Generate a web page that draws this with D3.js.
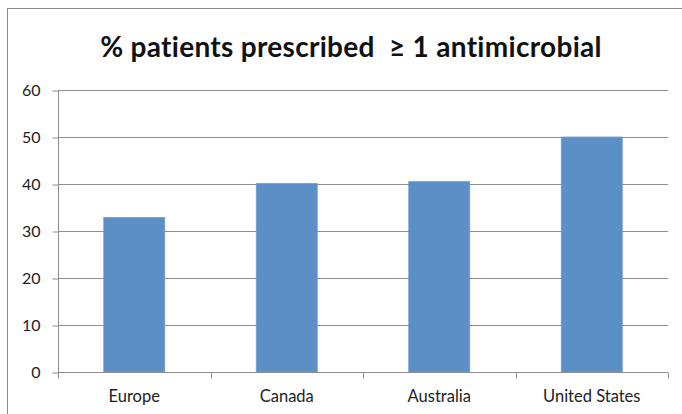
<!DOCTYPE html>
<html><head><meta charset="utf-8">
<script src="https://cdn.jsdelivr.net/npm/d3@7"></script>
<style>body{margin:0;background:#fff}svg{display:block}</style>
</head><body>
<script>
const categories = ["Europe", "Canada", "Australia", "United States"];
const values = [32.9, 40.1, 40.5, 50];
const yTicks = [0, 10, 20, 30, 40, 50, 60];
const title = "% patients prescribed  \u2265 1 antimicrobial";

const W = 682, H = 414;
const m = {left: 58, right: 14, top: 90, bottom: 42};
const svg = d3.select("body").append("svg").attr("width", W).attr("height", H);
const font = "Lato, 'Open Sans', sans-serif";

svg.append("rect").attr("x", 7.5).attr("y", 8.5).attr("width", W).attr("height", H)
  .attr("fill", "#fff").attr("stroke", "#8c8c8c").attr("stroke-width", 1);

const x = d3.scaleBand().domain(categories).range([m.left, W - m.right]).paddingInner(0).paddingOuter(0);
const y = d3.scaleLinear().domain([0, 60]).range([H - m.bottom, m.top]);

// gridlines
svg.append("g").selectAll("line").data(yTicks.filter(d => d > 0)).join("line")
  .attr("x1", m.left).attr("x2", W - m.right)
  .attr("y1", d => Math.round(y(d)) + 0.5).attr("y2", d => Math.round(y(d)) + 0.5)
  .attr("stroke", "#8e8e8e").attr("stroke-width", 1);

// bars
const bw = x.bandwidth() / 2.5;
svg.append("g").selectAll("rect").data(values).join("rect")
  .attr("x", (d, i) => x(categories[i]) + (x.bandwidth() - bw) / 2)
  .attr("width", bw)
  .attr("y", d => y(d))
  .attr("height", d => y(0) - y(d))
  .attr("fill", "#5b8fc5").attr("stroke", "#6f9dcf").attr("stroke-width", 0.8);

// y axis
const yAxis = d3.axisLeft(y).tickValues(yTicks).tickSize(6).tickPadding(12);
const gy = svg.append("g").attr("transform", `translate(${m.left + 0.5},0.5)`).call(yAxis);
gy.select(".domain").attr("stroke", "#8e8e8e").attr("d", `M0,${y(60)}V${y(0)}`);
gy.selectAll(".tick line").attr("stroke", "#8e8e8e");
gy.selectAll(".tick text").attr("font-family", font).attr("font-size", 16).attr("fill", "#222");

// x axis
const xAxis = d3.axisBottom(x).tickSize(0).tickPadding(18);
const gx = svg.append("g").attr("transform", `translate(0,${Math.round(y(0)) + 0.5})`).call(xAxis);
gx.select(".domain").attr("stroke", "#8e8e8e").attr("d", `M${m.left},0H${W - m.right}`);
gx.selectAll(".tick text").attr("font-family", font).attr("font-size", 16.5).attr("fill", "#222");
const bounds = categories.map(c => x(c)).concat([x(categories[categories.length - 1]) + x.bandwidth()]);
gx.append("g").selectAll("line").data(bounds).join("line")
  .attr("x1", d => Math.round(d) + 0.5).attr("x2", d => Math.round(d) + 0.5)
  .attr("y1", 0).attr("y2", 6).attr("stroke", "#8e8e8e");

svg.append("text").attr("x", 351).attr("y", 57).attr("text-anchor", "middle")
  .attr("font-family", font).attr("font-weight", "bold").attr("font-size", 28)
  .attr("letter-spacing", 0.3).style("white-space", "pre")
  .attr("fill", "#111").text(title);
</script>
</body></html>
